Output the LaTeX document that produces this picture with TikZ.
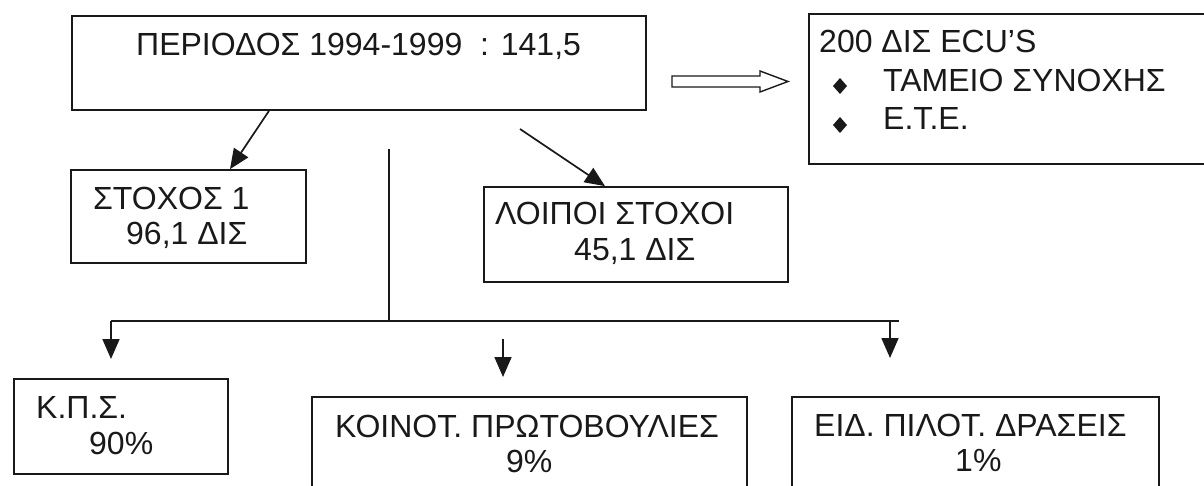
\documentclass[tikz,border=0pt]{standalone}
\usepackage{fontspec}
\setmainfont{Liberation Sans}
\usetikzlibrary{arrows.meta}
\begin{document}
\begin{tikzpicture}[x=1pt,y=-1pt,
  box/.style={draw=black!90, line width=1.7pt, inner sep=0pt, rectangle},
  txt/.style={anchor=base west, inner sep=0pt, text=black!90, font=\fontsize{32}{38}\selectfont},
  arr/.style={draw=black!90, line width=1.7pt, -{Triangle[length=20pt,width=17pt]}},
  ln/.style={draw=black!90, line width=1.7pt}]
\useasboundingbox (0,0) rectangle (1204,486);
\clip (0,0) rectangle (1204,486);
\fill[white] (0,0) rectangle (1204,486);
% boxes
\node[box, minimum width=574pt, minimum height=94pt] (top) at (359,63) {};
\node[box, minimum width=430pt, minimum height=150pt] (right) at (1024,89) {};
\node[box, minimum width=235pt, minimum height=93pt] (stoxos) at (188.5,216.5) {};
\node[box, minimum width=304pt, minimum height=95pt] (loipoi) at (636,234.5) {};
\node[box, minimum width=214pt, minimum height=95pt] (kps) at (121,426.5) {};
\node[box, minimum width=435pt, minimum height=130pt] (koinot) at (529.5,462) {};
\node[box, minimum width=367pt, minimum height=130pt] (eid) at (975.5,462) {};
% texts
\node[txt] (t1) at (136,56) {ΠΕΡΙΟΔΟΣ 1994-1999 \ : 141,5};
\node[txt] (r1) at (819,53) {200 ΔΙΣ ECU’S};
\node[txt] (r2) at (883,92) {ΤΑΜΕΙΟ ΣΥΝΟΧΗΣ};
\node[txt] (r3) at (883,130) {Ε.Τ.Ε.};
\fill[black!90] (840,78) -- (847,86) -- (840,94) -- (833,86) -- cycle;
\fill[black!90] (840,117) -- (847,125) -- (840,133) -- (833,125) -- cycle;
\node[txt] (s1) at (93,210) {ΣΤΟΧΟΣ 1};
\node[txt] (s2) at (126,245) {96,1 ΔΙΣ};
\node[txt] (l1) at (495,225) {ΛΟΙΠΟΙ ΣΤΟΧΟΙ};
\node[txt] (l2) at (574,261) {45,1 ΔΙΣ};
\node[txt] (k1) at (36,418) {Κ.Π.Σ.};
\node[txt] (k2) at (89,454) {90\%};
\node[txt] (c1) at (335,437) {ΚΟΙΝΟΤ. ΠΡΩΤΟΒΟΥΛΙΕΣ};
\node[txt] (c2) at (506,472) {9\%};
\node[txt] (e1) at (814,436) {ΕΙΔ. ΠΙΛΟΤ. ΔΡΑΣΕΙΣ};
\node[txt] (e2) at (955,471) {1\%};
% double (outline) arrow
\draw[line width=1.4pt, draw=black!90] (672,76) -- (760,76) -- (760,71) -- (788,81.5) -- (760,92) -- (760,87) -- (672,87) -- cycle;
% connectors
\draw[arr] ([xshift=-90pt]top.south) -- ([xshift=41.5pt]stoxos.north);
\coordinate (lstart) at (520,129);
\draw[arr] (lstart) -- ([xshift=-31pt]loipoi.north);
\coordinate (vtop) at (389,149);
\coordinate (junc) at (389,321);
\coordinate (hl) at (111,321);
\coordinate (hr) at (899,321);
\draw[ln] (vtop) -- (junc);
\draw[ln] (hl) -- (hr);
\coordinate (a1) at (111,359);
\coordinate (b0) at (503,339);
\coordinate (b1) at (503,377);
\coordinate (c0) at (890,321);
\coordinate (cc1) at (890,358);
\draw[arr] (hl) -- (a1);
\draw[arr] (b0) -- (b1);
\draw[arr] (c0) -- (cc1);
\end{tikzpicture}
\end{document}
